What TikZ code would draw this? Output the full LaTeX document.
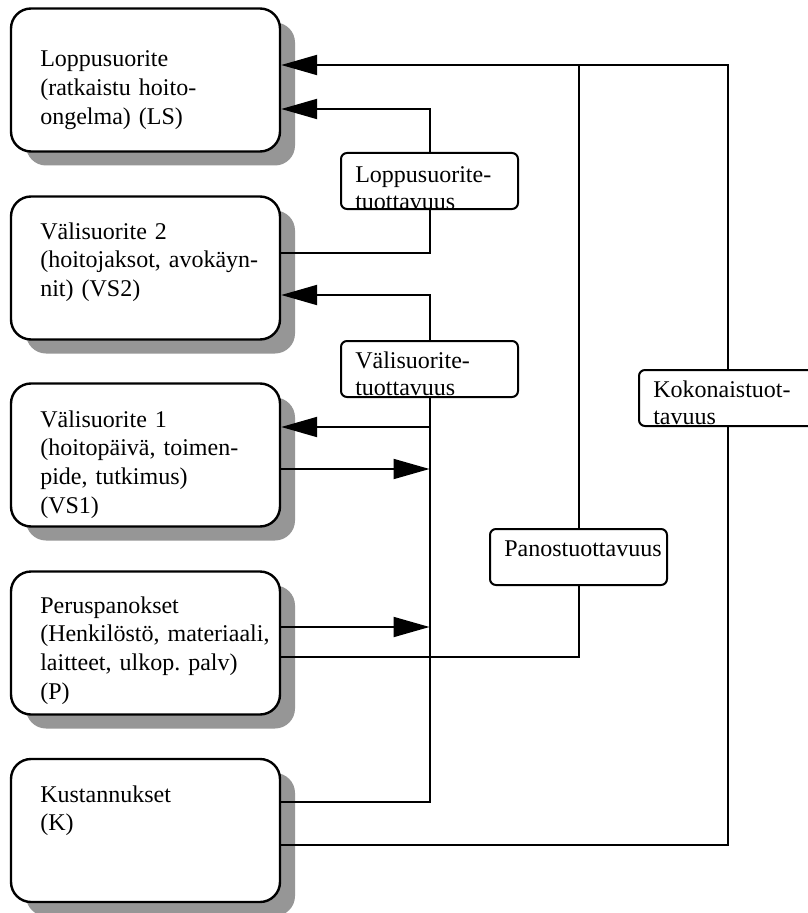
\documentclass[tikz,border=0pt]{standalone}
\usepackage{fontspec}
\setmainfont{Liberation Serif}
\usetikzlibrary{arrows.meta,shadows}
\definecolor{shadegray}{RGB}{150,150,150}
\frenchspacing
\tikzset{
  bigbox/.style={draw, line width=1.8pt, rounded corners=15pt, fill=white,
    minimum width=201.75pt, minimum height=107.25pt, inner sep=0pt,
    drop shadow={shadow xshift=11.25pt, shadow yshift=-10.5pt, opacity=1, fill=shadegray}},
  smallbox/.style={draw, line width=1.5pt, rounded corners=4.5pt, fill=white,
    minimum width=132.75pt, minimum height=42pt, inner sep=0pt},
  boxtext/.style={anchor=base west, inner sep=0pt, text width=240pt, align=left,
    font=\fontsize{18}{21.5}\selectfont},
  smalltext/.style={anchor=base west, inner sep=0pt, text width=160pt, align=left,
    font=\fontsize{18}{20.25}\selectfont},
  link/.style={line width=1.5pt, line cap=rect},
  arr/.style={line width=1.5pt, -{Triangle[length=27pt,width=15pt]}}
}
\begin{document}
\begin{tikzpicture}[x=0.75pt, y=-0.75pt]
  % page area
  \useasboundingbox (0,0) rectangle (807,913);
  \fill[white] (0,0) rectangle (807,913);

  % main blocks with drop shadows
  \node[bigbox] (ls)  at (145.5,80)    {};
  \node[bigbox] (vs2) at (145.5,268)   {};
  \node[bigbox] (vs1) at (145.5,455)   {};
  \node[bigbox] (pp)  at (145.5,643)   {};
  \node[bigbox] (kk)  at (145.5,830.5) {};

  \node[boxtext] (lstext)  at (40,67)  {Loppusuorite\\(ratkaistu hoito-\\ongelma) (LS)};
  \node[boxtext] (vs2text) at (40,239) {Välisuorite 2\\(hoitojaksot, avokäyn-\\nit) (VS2)};
  \node[boxtext] (vs1text) at (40,427) {Välisuorite 1\\(hoitopäivä, toimen-\\pide, tutkimus)\\(VS1)};
  \node[boxtext] (pptext)  at (40,613) {Peruspanokset\\(Henkilöstö, materiaali,\\laitteet, ulkop. palv)\\(P)};
  \node[boxtext] (kktext)  at (40,802) {Kustannukset\\(K)};

  % productivity measures
  \node[smallbox] (lt) at (429.5,181) {};
  \node[smallbox] (vt) at (429.5,369) {};
  \node[smallbox] (ps) at (578.5,557) {};
  \node[smallbox] (ko) at (727.5,398) {};

  \node[smalltext] (lttext) at (355,182) {Loppusuorite-\\tuottavuus};
  \node[smalltext] (vttext) at (355,368) {Välisuorite-\\tuottavuus};
  \node[smalltext] (pstext) at (504,556) {Panostuottavuus};
  \node[smalltext] (kotext) at (653,397) {Kokonaistuot-\\tavuus};

  % junction points
  \coordinate (ktop)  at (727.5,65);
  \coordinate (ptop)  at (578.5,65);
  \coordinate (kbot)  at (727.5,845);
  \coordinate (pbot)  at (578.5,657);
  \coordinate (ltop)  at (429.5,109);
  \coordinate (lbot)  at (429.5,253);
  \coordinate (vtop)  at (429.5,295);
  \coordinate (vbot)  at (429.5,802);
  \coordinate (v1in)  at (429.5,427);
  \coordinate (v1out) at (429.5,469);
  \coordinate (pin)   at (429.5,627);

  % total productivity
  \draw[arr]  (ktop) -- (ls.east |- ktop);
  \draw[link] (ktop) -- (ko.north);
  \draw[link] (ko.south) -- (kbot);
  \draw[link] (kk.east |- kbot) -- (kbot);

  % input productivity
  \draw[link] (ptop) -- (ps.north);
  \draw[link] (ps.south) -- (pbot);
  \draw[link] (pp.east |- pbot) -- (pbot);

  % final output productivity
  \draw[arr]  (ltop) -- (ls.east |- ltop);
  \draw[link] (ltop) -- (lt.north);
  \draw[link] (lt.south) -- (lbot);
  \draw[link] (vs2.east |- lbot) -- (lbot);

  % intermediate output productivity
  \draw[arr]  (vtop) -- (vs2.east |- vtop);
  \draw[link] (vtop) -- (vt.north);
  \draw[link] (vt.south) -- (vbot);
  \draw[link] (kk.east |- vbot) -- (vbot);
  \draw[arr]  (v1in) -- (vs1.east |- v1in);
  \draw[arr]  (vs1.east |- v1out) -- (v1out);
  \draw[arr]  (pp.east |- pin) -- (pin);
\end{tikzpicture}
\end{document}
